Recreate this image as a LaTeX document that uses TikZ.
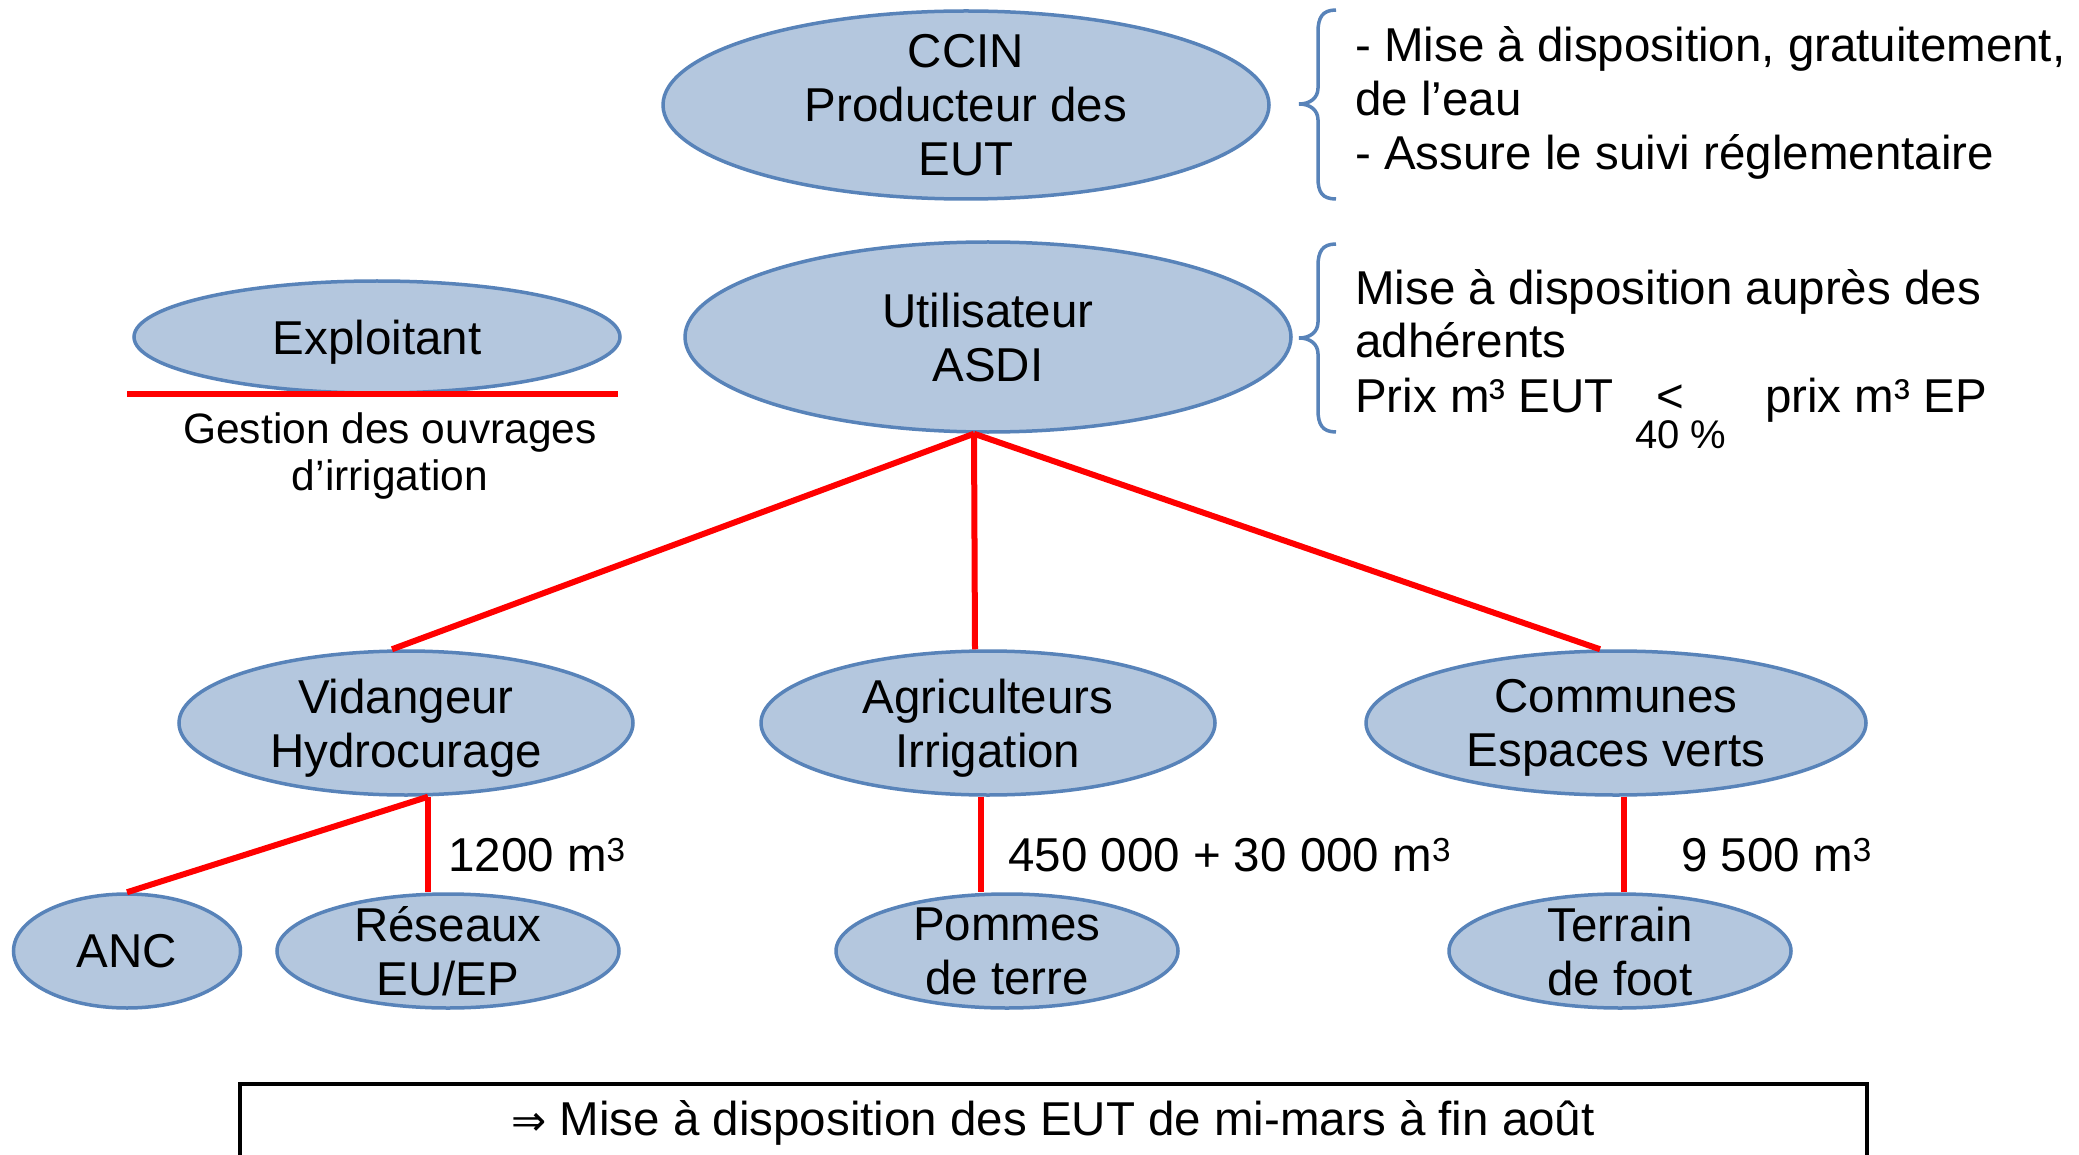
\documentclass[tikz,border=0pt]{standalone}
\usepackage{fontspec}
\setmainfont{Liberation Sans}
\newfontfamily\djvfont{DejaVu Sans}
\usetikzlibrary{shapes.geometric}
\definecolor{fillc}{RGB}{180,199,222}
\definecolor{bordc}{RGB}{88,131,185}
\newcommand\bigfnt{\fontsize{47.5}{54}\selectfont}
\newcommand\midfnt{\fontsize{42.5}{47}\selectfont}
\newcommand\smfnt{\fontsize{40}{46}\selectfont}
\begin{document}
\begin{tikzpicture}[x=1pt,y=-1pt,
  ell/.style={ellipse, draw=bordc, fill=fillc, line width=3.5pt, inner xsep=0pt, inner ysep=-14pt, text depth=0pt, align=center, font=\bigfnt},
  redl/.style={draw=red, line width=6pt},
  brc/.style={draw=bordc, line width=3.5pt},
  txt/.style={inner sep=0pt, font=\bigfnt, anchor=base west}]
\useasboundingbox (0,0) rectangle (2079,1155);
\clip (0,0) rectangle (2079,1155);
\fill[white] (0,0) rectangle (2079,1155);

% ellipses
\node[ell, minimum width=606pt, minimum height=188pt] (ccin) at (966,105) {CCIN\\Producteur des\\EUT};
\node[ell, minimum width=606pt, minimum height=190pt] (asdi) at (988,337) {Utilisateur\\ASDI};
\node[ell, minimum width=486pt, minimum height=112pt] (expl) at (377,337) {Exploitant};
\node[ell, minimum width=454pt, minimum height=144pt] (vid) at (406,723) {Vidangeur\\Hydrocurage};
\node[ell, minimum width=454pt, minimum height=144pt] (agri) at (988,723) {Agriculteurs\\Irrigation};
\node[ell, minimum width=500pt, minimum height=144pt] (comm) at (1616,723) {Communes\\Espaces verts};
\node[ell, minimum width=227pt, minimum height=114pt] (anc) at (127,951) {ANC};
\node[ell, minimum width=342pt, minimum height=114pt] (res) at (448,951) {Réseaux\\EU/EP};
\node[ell, minimum width=342pt, minimum height=114pt] (pom) at (1007,951) {Pommes\\de terre};
\node[ell, minimum width=342pt, minimum height=114pt] (ter) at (1620,951) {Terrain\\de foot};

% connectors
\coordinate (hub) at ([xshift=-14pt]asdi.south);
\draw[redl] (hub) -- ([xshift=-14pt]vid.north);
\draw[redl] (hub) -- ([xshift=-13pt]agri.north);
\draw[redl] (hub) -- ([xshift=-16pt]comm.north);
\draw[redl] ([xshift=22pt]vid.south) -- (anc.north);
\draw[redl] ([xshift=22pt]vid.south) -- ([xshift=-20pt]res.north);
\draw[redl] ([xshift=-7pt]agri.south) -- ([xshift=-26pt]pom.north);
\draw[redl] ([xshift=8pt]comm.south) -- ([xshift=4pt]ter.north);

% exploitant underline and text
\coordinate (ul1) at (127,394);
\coordinate (ul2) at (618,394);
\draw[redl] (ul1) -- (ul2);
\node[align=center, inner sep=0pt, font=\midfnt] (gest) at (390,456) {Gestion des ouvrages\\d’irrigation};

% volume labels
\node[txt] (v1) at (448,871) {1200 m\textsuperscript{3}};
\node[txt] (v2) at (1008,871) {450 000 + 30 000 m\textsuperscript{3}};
\node[txt] (v3) at (1681,871) {9 500 m\textsuperscript{3}};

% braces
\draw[brc] (1336,10) .. controls (1322,10) and (1318,18) .. (1318,32) -- (1318,88)
  .. controls (1318,98) and (1310,104) .. (1299,104)
  .. controls (1310,104) and (1318,110) .. (1318,120) -- (1318,178)
  .. controls (1318,192) and (1322,199) .. (1336,199);
\draw[brc] (1336,244) .. controls (1322,244) and (1318,252) .. (1318,266) -- (1318,322)
  .. controls (1318,332) and (1310,338) .. (1299,338)
  .. controls (1310,338) and (1318,344) .. (1318,354) -- (1318,410)
  .. controls (1318,424) and (1322,432) .. (1336,432);

% right texts
\node[txt] (t1) at (1355,62) {- Mise à disposition, gratuitement,};
\node[txt] (t2) at (1355,116) {de l’eau};
\node[txt] (t3) at (1355,170) {- Assure le suivi réglementaire};
\node[txt] (t4) at (1355,305) {Mise à disposition auprès des};
\node[txt] (t5) at (1355,358) {adhérents};
\node[txt] (t6) at (1355,412) {Prix m³ EUT};
\node[txt, anchor=base] (t7) at (1670,412) {<};
\node[inner sep=0pt, font=\smfnt, anchor=base] (t8) at (1681,448) {40 \%};
\node[txt] (t9) at (1765,412) {prix m³ EP};

% bottom box
\node[draw=black, line width=4pt, minimum width=1627pt, minimum height=78pt, anchor=north, inner sep=0pt, font=\bigfnt] (box) at (1053,1082) {{\djvfont\fontsize{42}{44}\selectfont ⇒} Mise à disposition des EUT de mi-mars à fin août};
\end{tikzpicture}
\end{document}
